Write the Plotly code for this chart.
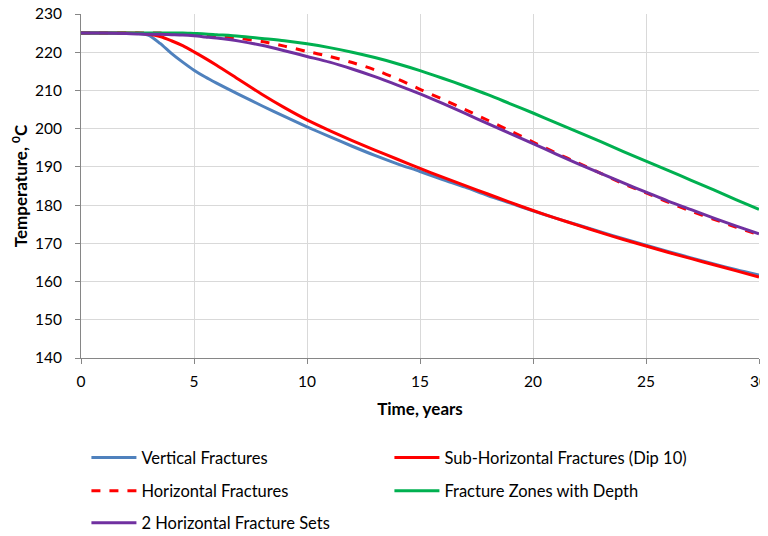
import plotly.graph_objects as go

years = [0, 1, 2, 2.5, 3, 3.5, 4, 4.5, 5, 5.5, 6, 7, 8, 9, 10, 11, 12, 13, 14, 15, 16, 17,
         18, 19, 20, 21, 22, 23, 24, 25, 26, 27, 28, 29, 30]

vertical = [225, 225, 225, 224.9, 224.4, 222.3, 219.7, 217.4, 215.3, 213.5, 211.9, 208.9,
            206.0, 203.2, 200.5, 197.9, 195.4, 193.0, 190.8, 188.8, 186.7, 184.7, 182.5,
            180.5, 178.5, 176.6, 174.8, 173.0, 171.2, 169.5, 167.8, 166.2, 164.6, 163.1,
            161.7]
sub_horizontal = [225, 225, 225, 225, 224.7, 224.1, 223.0, 221.7, 220.1, 218.4, 216.6,
                  212.8, 209.0, 205.5, 202.3, 199.5, 196.9, 194.4, 192.0, 189.6, 187.3,
                  185.1, 182.9, 180.7, 178.6, 176.6, 174.7, 172.8, 171.0, 169.3, 167.6,
                  166.0, 164.4, 162.8, 161.2]
horizontal = [225, 225, 225, 225, 225, 225, 224.9, 224.8, 224.7, 224.5, 224.2, 223.6,
              222.8, 221.6, 220.2, 218.9, 217.3, 215.4, 213.0, 210.3, 207.7, 205.0, 202.2,
              199.4, 196.5, 193.7, 191.0, 188.3, 185.6, 183.2, 180.7, 178.4, 176.3, 174.2,
              172.2]
zones_depth = [225, 225, 225, 225, 225, 225, 225, 225, 224.9, 224.8, 224.6, 224.2, 223.6,
               223.0, 222.2, 221.2, 220.0, 218.6, 217.0, 215.2, 213.2, 211.1, 208.9, 206.5,
               204.1, 201.6, 199.1, 196.6, 194.0, 191.5, 189.0, 186.5, 184.0, 181.4, 178.9]
two_sets = [225, 225, 224.9, 224.8, 224.7, 224.7, 224.6, 224.5, 224.3, 224.0, 223.7, 222.9,
            221.8, 220.4, 218.9, 217.4, 215.6, 213.6, 211.4, 209.1, 206.6, 204.0, 201.3,
            198.7, 196.1, 193.4, 190.8, 188.3, 185.8, 183.4, 181.0, 178.8, 176.6, 174.5,
            172.5]

series = [
    ("Vertical Fractures", vertical, "#4F81BD", "solid", "legend"),
    ("Sub-Horizontal Fractures (Dip 10)", sub_horizontal, "#FF0000", "solid", "legend"),
    ("Horizontal Fractures", horizontal, "#FF0000", "dash", "legend2"),
    ("Fracture Zones with Depth", zones_depth, "#00B050", "solid", "legend2"),
    ("2 Horizontal Fracture Sets", two_sets, "#7030A0", "solid", "legend3"),
]

FONT = "Lato"
fig = go.Figure()
for name, vals, color, dash, leg in series:
    fig.add_trace(go.Scatter(
        x=years, y=vals, name=name, mode="lines", legend=leg,
        line=dict(color=color, width=3, dash=dash, shape="spline", smoothing=0.8),
    ))

# page has an 8px body margin, so figure is 760x528 drawn at (8, 8)
def leg(y):
    return dict(orientation="h", x=0.008, xanchor="left", xref="paper",
                y=y, yanchor="middle", yref="container",
                entrywidth=243, entrywidthmode="pixels",
                font=dict(family=FONT, size=16.5, color="#000000"),
                bgcolor="rgba(0,0,0,0)", itemwidth=45)

fig.update_layout(
    width=760, height=528,
    margin=dict(l=73, r=9, t=6, b=178),
    paper_bgcolor="white", plot_bgcolor="white",
    font=dict(family=FONT, size=15, color="#000000"),
    legend=leg(0.148),
    legend2=leg(0.0852),
    legend3=leg(0.0246),
    xaxis=dict(
        range=[0, 30], dtick=5, tick0=0, automargin=False, ticklabeloverflow="allow",
        showgrid=True, gridcolor="#D9D9D9", gridwidth=1,
        showline=True, linecolor="#868686", linewidth=1,
        ticks="outside", ticklen=5, tickcolor="#868686", ticklabelstandoff=4,
        zeroline=False,
        tickfont=dict(family=FONT, size=15.5, color="#000000"),
        title=dict(text="<b>Time, years</b>", standoff=14,
                   font=dict(family=FONT, size=17, color="#000000")),
    ),
    yaxis=dict(
        range=[140, 230], dtick=10, tick0=140, automargin=False, ticklabeloverflow="allow",
        showgrid=True, gridcolor="#D9D9D9", gridwidth=1,
        showline=True, linecolor="#868686", linewidth=1,
        ticks="outside", ticklen=5, tickcolor="#868686", ticklabelstandoff=10,
        zeroline=False,
        tickfont=dict(family=FONT, size=15.5, color="#000000"),
        title=dict(text="<b>Temperature, <sup>0</sup>C</b>", standoff=4,
                   font=dict(family=FONT, size=17, color="#000000")),
    ),
)

fig.write_html("out.html")
